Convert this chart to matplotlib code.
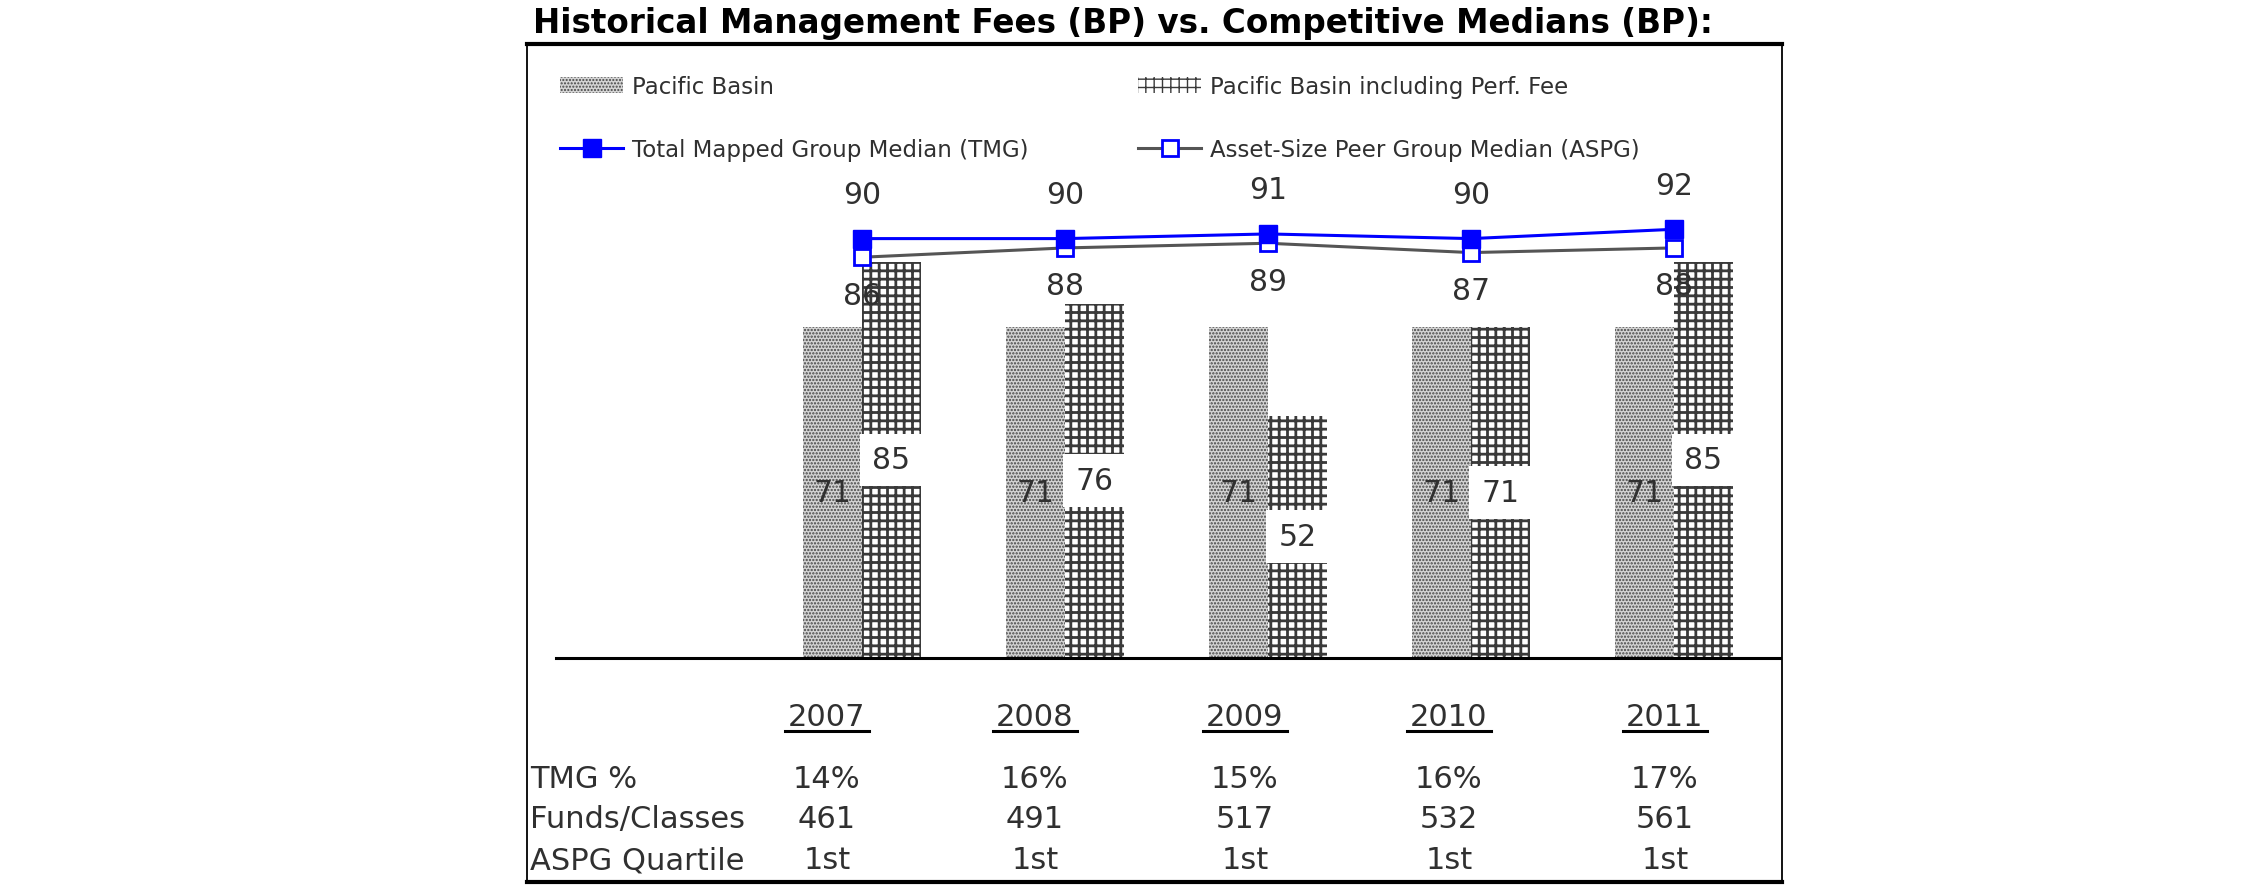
import matplotlib
matplotlib.use('Agg')
import matplotlib.pyplot as plt
from matplotlib.lines import Line2D
import numpy as np

# ---------------- data ----------------
years = ['2007', '2008', '2009', '2010', '2011']
pacific_basin = [71, 71, 71, 71, 71]
pacific_perf = [85, 76, 52, 71, 85]
tmg_median = [90, 90, 91, 90, 92]
aspg_median = [86, 88, 89, 87, 88]
tmg_pct = ['14%', '16%', '15%', '16%', '17%']
funds_classes = ['461', '491', '517', '532', '561']
aspg_quartile = ['1st', '1st', '1st', '1st', '1st']
row_labels = ['TMG %', 'Funds/Classes', 'ASPG Quartile']
series_labels = ['Pacific Basin', 'Pacific Basin including Perf. Fee',
                 'Total Mapped Group Median (TMG)', 'Asset-Size Peer Group Median (ASPG)']
title = 'Historical Management Fees (BP) vs. Competitive Medians (BP):'

# ---------------- layout ----------------
W, H = 2250, 895
plt.rcParams['font.family'] = ['DejaVu Sans']
fig = plt.figure(figsize=(W / 100, H / 100), dpi=100)


def fx(px):
    return px / W


def fy(py):
    return 1 - py / H


ax = fig.add_axes([fx(527), fy(883), (1782 - 527) / W, (883 - 45) / H])
x = np.arange(len(years))
w = 0.29
ax.set_xlim(-1.650, 4.532)
ax.set_ylim(-48.07, (659 - 45) / 4.66)
ax.set_xticks([])
ax.set_yticks([])
for s in ['left', 'right']:
    ax.spines[s].set_linewidth(1.3)
for s in ['top', 'bottom']:
    ax.spines[s].set_linewidth(3.0)

TXT = '#303030'

with plt.rc_context({'hatch.linewidth': 1.1}):
    b1 = ax.bar(x - w / 2, pacific_basin, w, facecolor='#d4d4d4', edgecolor='#454545',
                linewidth=0, hatch='.....', zorder=2)
with plt.rc_context({'hatch.linewidth': 2.0}):
    b2 = ax.bar(x + w / 2, pacific_perf, w, facecolor='white', edgecolor='#3a3a3a',
                linewidth=0, hatch='++', zorder=2)

ax.axhline(0, xmin=(556 - 527) / (1782 - 527), xmax=1, color='black', lw=2.2, zorder=3)

l2, = ax.plot(x, aspg_median, color='#555555', lw=2.2, marker='s', ms=12,
              mfc='white', mec='#0000ff', mew=2, zorder=4)
l1, = ax.plot(x, tmg_median, color='#0000ff', lw=2.2, marker='s', ms=12.5,
              mfc='#0000ff', mec='#0000ff', zorder=5)

FS = 21.5
for xi, v in zip(x, pacific_basin):
    ax.text(xi - w / 2, v / 2, str(v), ha='center', va='center', fontsize=FS,
            color=TXT, zorder=6)
for xi, v in zip(x, pacific_perf):
    ax.text(xi + w / 2, v / 2, str(v), ha='center', va='center', fontsize=FS,
            color=TXT, zorder=6,
            bbox=dict(boxstyle='square,pad=0.4', fc='white', ec='none'))
for xi, v in zip(x, tmg_median):
    ax.annotate(str(v), (xi, v), xytext=(0, 44), textcoords='offset pixels',
                ha='center', va='center', fontsize=FS, color=TXT, zorder=6)
for xi, v in zip(x, aspg_median):
    ax.annotate(str(v), (xi, v), xytext=(0, -38), textcoords='offset pixels',
                ha='center', va='center', fontsize=FS, color=TXT, zorder=6)

# legends
LFS = 16.5
lpx = LFS * 100 / 72
common = dict(loc='center left', bbox_transform=fig.transFigure, frameon=False,
              fontsize=LFS, handlelength=63 / lpx, handletextpad=9 / lpx,
              borderpad=0, borderaxespad=0, labelspacing=1.75, labelcolor=TXT)
leg1 = ax.legend([b1, l1], [series_labels[0], series_labels[2]],
                 bbox_to_anchor=(fx(560), fy(119)), **common)
ax.add_artist(leg1)
leg2 = ax.legend([b2, l2], [series_labels[1], series_labels[3]],
                 bbox_to_anchor=(fx(1138), fy(119)), **common)

# title
fig.text(fx(533), fy(24), title, ha='left', va='center', fontsize=23.5,
         fontweight='bold', color='black')

# table
TFS = 22
col_x = [827, 1035, 1245, 1449, 1665]
for cx, yr in zip(col_x, years):
    fig.text(fx(cx), fy(718), yr, ha='center', va='center', fontsize=TFS, color=TXT)
    fig.add_artist(Line2D([fx(cx - 42), fx(cx + 42)], [fy(732), fy(732)],
                          transform=fig.transFigure, color='black', lw=2.2))
row_y = [780, 820, 861]
for ry, lab in zip(row_y, row_labels):
    fig.text(fx(530), fy(ry), lab, ha='left', va='center', fontsize=TFS, color=TXT)
for ry, vals in zip(row_y, [tmg_pct, funds_classes, aspg_quartile]):
    for cx, v in zip(col_x, vals):
        fig.text(fx(cx), fy(ry), v, ha='center', va='center', fontsize=TFS, color=TXT)

fig.savefig('out.png', dpi=100)
